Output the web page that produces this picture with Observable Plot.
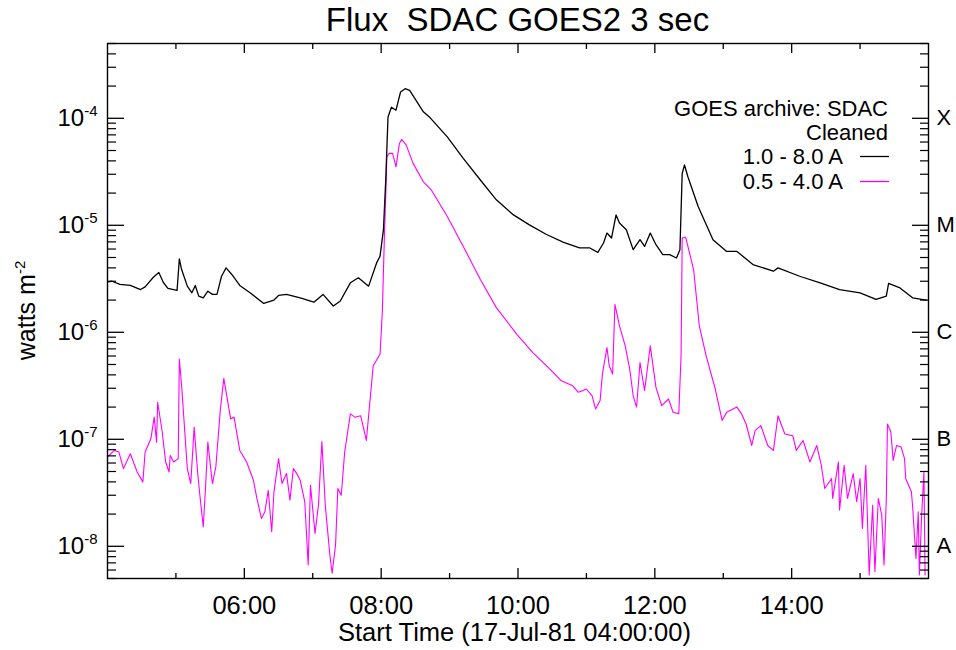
<!DOCTYPE html>
<html><head><meta charset="utf-8">
<script src="https://cdn.jsdelivr.net/npm/d3@7"></script>
<script src="https://cdn.jsdelivr.net/npm/@observablehq/plot@0.6"></script>
<style>
html,body{margin:0;padding:0;background:#fff;overflow:hidden;}
#wrap{position:relative;width:956px;height:650px;}
#wrap svg.overlay{position:absolute;left:0;top:0;pointer-events:none;}
</style></head><body><div id="wrap"></div>
<script>
// ---- data ----
const longTimes = ["04:00","04:04","04:11","04:20","04:29","04:33","04:40","04:45","04:49","04:53","05:01","05:03","05:05","05:10","05:14","05:17","05:20","05:24","05:28","05:32","05:36","05:40","05:44","05:49","05:56","06:05","06:17","06:26","06:30","06:37","06:49","07:01","07:09","07:18","07:24","07:33","07:40","07:49","07:56","07:59","08:02","08:04","08:06","08:09","08:13","08:17","08:21","08:25","08:37","08:43","08:58","09:12","09:27","09:41","09:56","10:10","10:25","10:40","10:54","11:03","11:10","11:15","11:18","11:22","11:26","11:29","11:35","11:41","11:47","11:51","11:56","12:01","12:07","12:13","12:19","12:22","12:24","12:26","12:29","12:38","12:51","13:03","13:12","13:26","13:44","13:48","14:07","14:25","14:42","15:00","15:14","15:23","15:25","15:35","15:46","15:58"];
const longFlux = [2.96e-6,3.0e-6,2.8e-6,2.74e-6,2.51e-6,2.66e-6,3.25e-6,3.62e-6,2.92e-6,2.57e-6,2.46e-6,4.85e-6,3.86e-6,2.7e-6,2.34e-6,2.74e-6,2.18e-6,2.1e-6,2.42e-6,2.26e-6,2.26e-6,3.34e-6,4.0e-6,3.47e-6,2.74e-6,2.34e-6,1.86e-6,2.0e-6,2.21e-6,2.26e-6,2.1e-6,1.91e-6,2.26e-6,1.76e-6,1.95e-6,2.9e-6,3.23e-6,2.7e-6,4.45e-6,5.13e-6,9.1e-6,2.65e-5,1.03e-4,1.27e-4,1.19e-4,1.76e-4,1.89e-4,1.82e-4,1.15e-4,1.01e-4,6.7e-5,4.22e-5,2.65e-5,1.73e-5,1.25e-5,1.01e-5,8.2e-6,6.92e-6,6.14e-6,6.14e-6,5.58e-6,6.83e-6,8.46e-6,7.6e-6,1.25e-5,1.05e-5,9.1e-6,5.92e-6,7.33e-6,6.35e-6,8.46e-6,6.59e-6,5.32e-6,5.32e-6,4.95e-6,5.92e-6,3.06e-5,3.66e-5,2.84e-5,1.5e-5,7.33e-6,5.7e-6,5.7e-6,4.3e-6,3.72e-6,4.0e-6,3.34e-6,2.9e-6,2.51e-6,2.34e-6,2.03e-6,2.18e-6,2.86e-6,2.6e-6,2.1e-6,2.0e-6];

const shortTimes = ["04:00","04:06","04:10","04:14","04:20","04:26","04:31","04:33","04:38","04:41","04:43","04:44","04:48","04:51","04:54","04:55","04:58","05:02","05:03","05:05","05:10","05:13","05:16","05:19","05:21","05:24","05:26","05:28","05:32","05:35","05:39","05:42","05:48","05:51","05:56","06:02","06:08","06:11","06:15","06:18","06:21","06:24","06:26","06:30","06:33","06:37","06:40","06:43","06:46","06:49","06:53","06:56","06:58","07:02","07:05","07:08","07:11","07:15","07:17","07:20","07:22","07:25","07:28","07:33","07:37","07:42","07:47","07:53","07:59","08:01","08:03","08:04","08:05","08:07","08:10","08:13","08:16","08:18","08:22","08:28","08:37","08:44","08:58","09:12","09:27","09:41","09:59","10:13","10:28","10:38","10:48","10:53","11:00","11:05","11:08","11:12","11:14","11:18","11:20","11:23","11:25","11:29","11:34","11:38","11:41","11:44","11:47","11:51","11:56","12:01","12:06","12:12","12:16","12:21","12:23","12:24","12:27","12:34","12:39","12:45","12:53","12:59","13:03","13:12","13:16","13:20","13:25","13:28","13:33","13:39","13:44","13:48","13:54","14:01","14:04","14:10","14:16","14:22","14:26","14:29","14:35","14:36","14:41","14:42","14:46","14:49","14:54","14:57","15:00","15:02","15:05","15:08","15:11","15:13","15:16","15:19","15:21","15:23","15:24","15:27","15:29","15:32","15:36","15:39","15:40","15:45","15:46","15:49","15:51","15:52","15:54","15:56","15:57"];
const shortFlux = [6.83e-8,7.87e-8,7.6e-8,5.32e-8,7.33e-8,4.95e-8,4.0e-8,7.6e-8,1.01e-7,1.61e-7,9.4e-8,2.22e-7,1.17e-7,6.14e-8,4.95e-8,7.06e-8,6.14e-8,6.59e-8,5.61e-7,3.16e-7,5.32e-8,3.86e-8,1.3e-7,4.95e-8,3.0e-8,1.52e-8,3.59e-8,9.4e-8,3.86e-8,5.51e-8,1.92e-7,3.71e-7,1.55e-7,1.61e-7,7.87e-8,6.14e-8,4.14e-8,2.8e-8,1.82e-8,2.1e-8,3.34e-8,1.37e-8,3.23e-8,6.59e-8,3.86e-8,4.78e-8,2.7e-8,5.32e-8,4.78e-8,4.14e-8,2.61e-8,6.7e-9,3.72e-8,1.32e-8,2.42e-8,9.55e-8,2.42e-8,8.3e-9,5.6e-9,1.03e-8,3.47e-8,3.0e-8,7.6e-8,1.73e-7,1.61e-7,1.66e-7,9.75e-8,4.86e-7,6.24e-7,1.52e-6,9.1e-6,1.85e-5,4.36e-5,4.7e-5,4.7e-5,3.52e-5,5.82e-5,6.34e-5,5.61e-5,3.79e-5,2.55e-5,2.14e-5,1.21e-5,6.35e-6,3.11e-6,1.7e-6,9.57e-7,6.47e-7,4.53e-7,3.52e-7,3.16e-7,2.75e-7,2.95e-7,2.55e-7,1.92e-7,2.3e-7,4.07e-7,7.2e-7,4.86e-7,4.07e-7,1.82e-6,1.15e-6,7.46e-7,4.53e-7,2.55e-7,2.0e-7,5.22e-7,2.84e-7,7.46e-7,3.06e-7,2.06e-7,2.38e-7,1.79e-7,1.73e-7,6.03e-7,7.6e-6,7.76e-6,3.86e-6,1.15e-6,6.03e-7,2.95e-7,1.5e-7,1.79e-7,2.0e-7,1.73e-7,1.39e-7,8.75e-8,1.21e-7,1.34e-7,8.75e-8,7.87e-8,1.66e-7,1.12e-7,1.08e-7,7.87e-8,9.75e-8,6.14e-8,8.75e-8,5.7e-8,3.47e-8,4.3e-8,2.8e-8,6.14e-8,2.18e-8,5.7e-8,2.8e-8,4.78e-8,2.61e-8,4.3e-8,1.47e-8,5.7e-8,5.4e-9,2.42e-8,5.8e-9,2.8e-8,1.95e-8,6.7e-9,2.8e-8,1.39e-7,1.17e-7,6.35e-8,8.75e-8,8.46e-8,6.59e-8,4.3e-8,3.23e-8,2.42e-8,7.7e-9,2.1e-8,5.4e-9,1.95e-8,4.95e-8,5.4e-9];

const decadeTicks = [1e-8, 1e-7, 1e-6, 1e-5, 1e-4];
const classLabels = ["A", "B", "C", "M", "X"];
const majorHourLabels = ["06:00", "08:00", "10:00", "12:00", "14:00"];
const minorHourLabels = ["05:00", "07:00", "09:00", "11:00", "13:00", "15:00"];
const timeRange = ["04:00", "16:00"];
const yDomain = [5e-9, 5e-4];
const titleText = "Flux  SDAC GOES2 3 sec";
const xLabelText = "Start Time (17-Jul-81 04:00:00)";
const legendHeader = ["GOES archive: SDAC", "Cleaned"];
const seriesNames = ["1.0 - 8.0 A", "0.5 - 4.0 A"];
const seriesColors = ["#000000", "#ff00ff"];

// ---- build ----
const FONT = "'Liberation Sans', Arial, Helvetica, sans-serif";
const parseT = s => new Date(`1981-07-17T${s}:00Z`);
const longData = longTimes.map((t, i) => ({t: parseT(t), v: longFlux[i]}));
const shortData = shortTimes.map((t, i) => ({t: parseT(t), v: shortFlux[i]}));
const majorTimes = majorHourLabels.map(parseT);
const minorTimes = minorHourLabels.map(parseT);
const minorY = [];
for (let e = -9; e <= -4; e++) for (let k = 2; k <= 9; k++) {
  const v = k * Math.pow(10, e);
  if (v >= yDomain[0] && v <= yDomain[1]) minorY.push(v);
}

const W = 956, H = 650, mt = 43, mb = 72, ml = 107, mr = 28;
const fw = W - ml - mr, fh = H - mt - mb;
const expOf = d => Math.round(Math.log10(d));

const chart = Plot.plot({
  width: W, height: H,
  marginTop: mt, marginBottom: mb, marginLeft: ml, marginRight: mr,
  style: {fontFamily: FONT, background: "white", color: "black", overflow: "visible"},
  x: {type: "utc", domain: timeRange.map(parseT)},
  y: {type: "log", domain: yDomain},
  marks: [
    Plot.line(shortData, {x: "t", y: "v", stroke: seriesColors[1], strokeWidth: 1.1, clip: true}),
    Plot.line(longData, {x: "t", y: "v", stroke: seriesColors[0], strokeWidth: 1.3, clip: true}),
    // left ticks (inward)
    Plot.tickY(decadeTicks, {insetRight: fw - 17, stroke: "#000", strokeWidth: 1.3}),
    Plot.tickY(minorY, {insetRight: fw - 9, stroke: "#000", strokeWidth: 1.2}),
    // right ticks (inward)
    Plot.tickY(decadeTicks, {insetLeft: fw - 16, stroke: "#000", strokeWidth: 1.3}),
    Plot.tickY(minorY, {insetLeft: fw - 8, stroke: "#000", strokeWidth: 1.2}),
    // bottom ticks
    Plot.tickX(majorTimes, {insetTop: fh - 10, stroke: "#000", strokeWidth: 1.3}),
    Plot.tickX(minorTimes, {insetTop: fh - 5, stroke: "#000", strokeWidth: 1.3}),
    // top ticks
    Plot.tickX(majorTimes, {insetBottom: fh - 10, stroke: "#000", strokeWidth: 1.3}),
    Plot.tickX(minorTimes, {insetBottom: fh - 6, stroke: "#000", strokeWidth: 1.3}),
    Plot.frame({stroke: "#000", strokeWidth: 1.4}),
    Plot.axisX({ticks: majorTimes, tickSize: 0, tickPadding: 17, tickFormat: d3.utcFormat("%H:%M"),
      fontSize: 25.5, fontFamily: FONT, label: null}),
    Plot.axisY({anchor: "left", ticks: decadeTicks, tickSize: 0, tickPadding: 10,
      tickFormat: d => "10^" + expOf(d), fontSize: 24, fontFamily: FONT, label: null}),
    Plot.axisY({anchor: "right", ticks: decadeTicks, tickSize: 0, tickPadding: 8,
      tickFormat: d => classLabels[expOf(d) + 8], fontSize: 22, fontFamily: FONT, label: null})
  ]
});

// superscript exponents on the left tick labels
d3.select(chart).selectAll("text").each(function () {
  const t = d3.select(this);
  const s = t.text();
  if (!s.startsWith("10^")) return;
  const exp = s.slice(3);
  t.text(null);
  t.append("tspan").text("10");
  t.append("tspan").attr("dy", -10).attr("font-size", 15).text(exp);
});

const wrap = document.getElementById("wrap");
wrap.appendChild(chart);

// overlay: title, axis titles, legend
const ov = d3.select(wrap).append("svg").attr("class", "overlay")
  .attr("width", W).attr("height", H).attr("font-family", FONT);

ov.append("text").attr("x", ml + fw / 2).attr("y", 31).attr("text-anchor", "middle")
  .attr("font-size", 33).attr("xml:space", "preserve").style("white-space", "pre").text(titleText);

ov.append("text").attr("x", ml + fw / 2 - 3).attr("y", 641).attr("text-anchor", "middle")
  .attr("font-size", 25.5).text(xLabelText);

const yl = ov.append("text").attr("transform", `translate(35,${mt + fh / 2}) rotate(-90)`)
  .attr("text-anchor", "middle").attr("font-size", 25);
yl.append("tspan").text("watts m");
yl.append("tspan").attr("dy", -10).attr("font-size", 15).text("-2");

const legRight = 888;
ov.append("text").attr("x", legRight).attr("y", 116).attr("text-anchor", "end")
  .attr("font-size", 22).text(legendHeader[0]);
ov.append("text").attr("x", legRight).attr("y", 140).attr("text-anchor", "end")
  .attr("font-size", 22).text(legendHeader[1]);
seriesNames.forEach((name, i) => {
  const by = 164 + i * 25;
  ov.append("text").attr("x", 843).attr("y", by).attr("text-anchor", "end")
    .attr("font-size", 22).text(name);
  ov.append("line").attr("x1", 860).attr("x2", 889).attr("y1", by - 7.5).attr("y2", by - 7.5)
    .attr("stroke", seriesColors[i]).attr("stroke-width", 1.3);
});
</script></body></html>
